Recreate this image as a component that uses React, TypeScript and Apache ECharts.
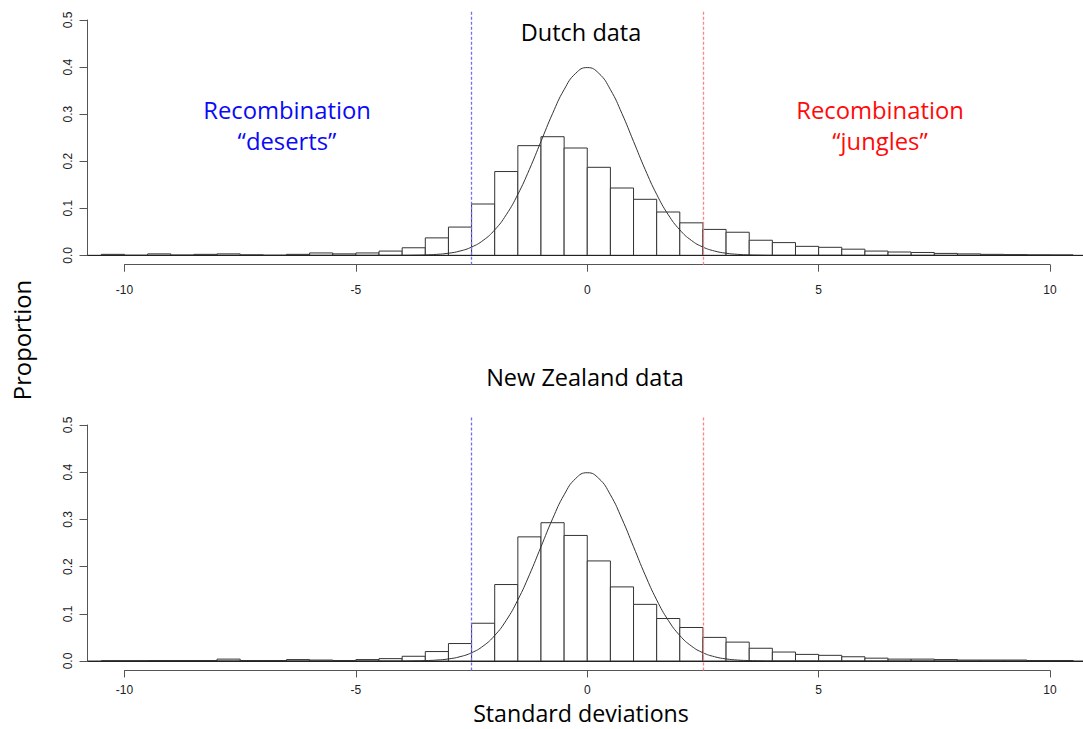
import React, { useEffect, useRef } from "react";
import * as echarts from "echarts";

// Histogram bin edges (standard deviations)
const binStarts = [-10.5, -10, -9.5, -9, -8.5, -8, -7.5, -7, -6.5, -6, -5.5, -5, -4.5, -4, -3.5, -3, -2.5, -2, -1.5, -1, -0.5, 0, 0.5, 1, 1.5, 2, 2.5, 3, 3.5, 4, 4.5, 5, 5.5, 6, 6.5, 7, 7.5, 8, 8.5, 9, 9.5, 10];
const binEnds = [-10, -9.5, -9, -8.5, -8, -7.5, -7, -6.5, -6, -5.5, -5, -4.5, -4, -3.5, -3, -2.5, -2, -1.5, -1, -0.5, 0, 0.5, 1, 1.5, 2, 2.5, 3, 3.5, 4, 4.5, 5, 5.5, 6, 6.5, 7, 7.5, 8, 8.5, 9, 9.5, 10, 10.5];

// Proportions per bin
const dutchValues = [0.002, 0, 0.003, 0.0005, 0.002, 0.003, 0.001, 0, 0.002, 0.005, 0.003, 0.005, 0.009, 0.016, 0.037, 0.06, 0.109, 0.178, 0.233, 0.252, 0.228, 0.187, 0.143, 0.119, 0.092, 0.069, 0.055, 0.049, 0.032, 0.027, 0.019, 0.017, 0.013, 0.009, 0.007, 0.006, 0.004, 0.003, 0.002, 0.0015, 0.001, 0.0008];
const nzValues = [0.0005, 0.0005, 0.001, 0.001, 0.001, 0.004, 0.001, 0.001, 0.003, 0.002, 0.001, 0.003, 0.005, 0.01, 0.02, 0.037, 0.08, 0.162, 0.263, 0.293, 0.266, 0.212, 0.157, 0.12, 0.09, 0.071, 0.05, 0.04, 0.027, 0.019, 0.014, 0.012, 0.009, 0.006, 0.004, 0.004, 0.003, 0.002, 0.002, 0.002, 0.001, 0.001];

// Reference curve (standard normal density)
const curveX = [-10.8, -4, -3.75, -3.5, -3.25, -3, -2.75, -2.5, -2.25, -2, -1.75, -1.5, -1.25, -1, -0.75, -0.5, -0.25, 0, 0.25, 0.5, 0.75, 1, 1.25, 1.5, 1.75, 2, 2.25, 2.5, 2.75, 3, 3.25, 3.5, 3.75, 4, 10.8];
const curveY = [0, 0.0001, 0.0004, 0.0009, 0.002, 0.0044, 0.0091, 0.0175, 0.0317, 0.054, 0.0863, 0.1295, 0.1826, 0.242, 0.3011, 0.3521, 0.3867, 0.3989, 0.3867, 0.3521, 0.3011, 0.242, 0.1826, 0.1295, 0.0863, 0.054, 0.0317, 0.0175, 0.0091, 0.0044, 0.002, 0.0009, 0.0004, 0.0001, 0];

const xTickValues = [-10, -5, 0, 5, 10];
const yTickValues = [0, 0.1, 0.2, 0.3, 0.4, 0.5];
const thresholds = [-2.5, 2.5];

const panelTitles = ["Dutch data", "New Zealand data"];
const regionLabels = ["Recombination\n“deserts”", "Recombination\n“jungles”"];
const xAxisTitle = "Standard deviations";
const yAxisTitle = "Proportion";

const FONT = "'Open Sans', Lato, sans-serif";
const TICK_FONT = "'Liberation Sans', Arial, sans-serif";

function buildPanel(idx: number, values: number[], geo: { y0: number; pxPerUnit: number; labelMargin: number }) {
  const base = idx * 3;
  const plotTop = geo.y0 - 0.52 * geo.pxPerUnit;
  const plotBottom = geo.y0 + 0.02 * geo.pxPerUnit;
  const axisTop = geo.y0 - 0.5 * geo.pxPerUnit;
  const grids = [
    { left: 87.5, width: 995.5, top: plotTop, height: plotBottom - plotTop },
    { left: 87.5, width: 100, top: axisTop, height: geo.y0 - axisTop },
    { left: 124.5, width: 925.5, top: plotBottom - 60, height: 60 },
  ];
  const xAxes = [
    { gridIndex: base, type: "value", min: -10.8, max: 10.713, show: false },
    { gridIndex: base + 1, type: "value", min: 0, max: 1, show: false },
    {
      gridIndex: base + 2,
      type: "value",
      min: -10,
      max: 10,
      interval: 5,
      position: "bottom",
      axisLine: { show: true, onZero: false, lineStyle: { color: "#555", width: 1 } },
      axisTick: { show: true, length: 7, lineStyle: { color: "#555" } },
      axisLabel: {
        show: true,
        fontSize: 12,
        lineHeight: 12,
        color: "#222",
        margin: geo.labelMargin,
        fontFamily: TICK_FONT,
        customValues: xTickValues,
      },
      splitLine: { show: false },
    },
  ];
  const yAxes = [
    { gridIndex: base, type: "value", min: -0.02, max: 0.52, show: false },
    {
      gridIndex: base + 1,
      type: "value",
      min: 0,
      max: 0.5,
      interval: 0.1,
      position: "left",
      axisLine: { show: true, onZero: false, lineStyle: { color: "#555", width: 1 } },
      axisTick: { show: true, length: 8, lineStyle: { color: "#555" } },
      axisLabel: {
        show: true,
        rotate: 90,
        fontSize: 12,
        color: "#222",
        margin: 14,
        fontFamily: TICK_FONT,
        customValues: yTickValues,
        formatter: (v: number) => v.toFixed(1),
      },
      splitLine: { show: false },
    },
    { gridIndex: base + 2, type: "value", min: 0, max: 1, show: false },
  ];
  const data = values.map((v, i) => [binStarts[i], binEnds[i], v]);
  const series = [
    {
      type: "custom",
      xAxisIndex: base,
      yAxisIndex: base,
      data,
      encode: { x: [0, 1], y: 2 },
      renderItem: (params: any, api: any) => {
        const p0 = api.coord([api.value(0), api.value(2)]);
        const p1 = api.coord([api.value(1), 0]);
        return {
          type: "rect",
          shape: { x: p0[0], y: p0[1], width: p1[0] - p0[0], height: p1[1] - p0[1] },
          style: { fill: "#fff", stroke: "#333", lineWidth: 1 },
        };
      },
      z: 2,
    },
    {
      type: "line",
      xAxisIndex: base,
      yAxisIndex: base,
      data: curveX.map((x, i) => [x, curveY[i]]),
      showSymbol: false,
      smooth: true,
      lineStyle: { color: "#333", width: 1 },
      z: 3,
      markLine: {
        silent: true,
        symbol: ["none", "none"],
        label: { show: false },
        data: [
          { xAxis: thresholds[0], lineStyle: { color: "#6f6ff5", type: [3, 2], width: 1.3 } },
          { xAxis: thresholds[1], lineStyle: { color: "#ff8585", type: [3, 2], width: 1.3 } },
          { yAxis: 0, lineStyle: { color: "#222", type: "solid", width: 1 } },
        ],
      },
    },
  ];
  return { grids, xAxes, yAxes, series };
}

export default function App() {
  const ref = useRef<HTMLDivElement>(null);
  useEffect(() => {
    if (!ref.current) return;
    const chart = echarts.init(ref.current, undefined, { renderer: "svg" });
    const top = buildPanel(0, dutchValues, { y0: 255.3, pxPerUnit: 470.6, labelMargin: 19 });
    const bottom = buildPanel(1, nzValues, { y0: 661, pxPerUnit: 472, labelMargin: 14 });
    const textStyle = (size: number, color = "#000") => ({
      fontFamily: FONT,
      fontSize: size,
      fill: color,
      textAlign: "center",
      textVerticalAlign: "middle",
    });
    chart.setOption({
      animation: false,
      backgroundColor: "#fff",
      grid: [...top.grids, ...bottom.grids],
      xAxis: [...top.xAxes, ...bottom.xAxes],
      yAxis: [...top.yAxes, ...bottom.yAxes],
      series: [...top.series, ...bottom.series],
      graphic: [
        { type: "text", x: 581, y: 32, style: { text: panelTitles[0], ...textStyle(23.5) } },
        { type: "text", x: 585, y: 377, style: { text: panelTitles[1], ...textStyle(23.5) } },
        { type: "text", x: 287, y: 125, style: { text: regionLabels[0], lineHeight: 31, ...textStyle(23.8, "#0a0af5") } },
        { type: "text", x: 880, y: 125, style: { text: regionLabels[1], lineHeight: 31, ...textStyle(23.8, "#ff0a0a") } },
        { type: "text", x: 581, y: 713, style: { text: xAxisTitle, lineHeight: 20, ...textStyle(23.2) } },
        { type: "text", x: 22, y: 340, rotation: Math.PI / 2, style: { text: yAxisTitle, ...textStyle(23.8) } },
      ],
    });
    return () => chart.dispose();
  }, []);
  return <div ref={ref} style={{ position: "fixed", left: 0, top: 0, width: "1083px", height: "729px" }} />;
}
